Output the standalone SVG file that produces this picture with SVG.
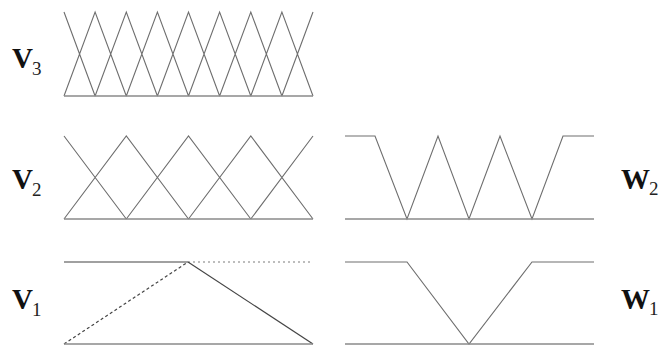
<svg xmlns="http://www.w3.org/2000/svg" width="665" height="345" viewBox="0 0 665 345">
<style>
.ln{fill:none;stroke:#6e6e6e;stroke-width:1.1}
.base{fill:none;stroke:#8a8a8a;stroke-width:1.3}
.lbl{font-family:"Liberation Serif",serif;font-weight:bold;font-size:29px;fill:#111}
.sub{font-family:"Liberation Serif",serif;font-weight:normal;font-size:19px;fill:#222}
</style>
<rect width="665" height="345" fill="#fff"/>
<g id="V3">
<path class="ln" d="M64,12 L95.1,96 M64,96 L95.1,12 L126.3,96 M95.1,96 L126.3,12 L157.4,96 M126.3,96 L157.4,12 L188.5,96 M157.4,96 L188.5,12 L219.6,96 M188.5,96 L219.6,12 L250.8,96 M219.6,96 L250.8,12 L281.9,96 M250.8,96 L281.9,12 L313,96 M281.9,96 L313,12"/>
<line class="base" x1="64" y1="96" x2="313" y2="96"/>
<text class="lbl" x="12" y="68">V<tspan class="sub" dx="-1" dy="7">3</tspan></text>
</g>
<g id="V2">
<path class="ln" d="M64,136 L126.3,219 M64,219 L126.3,136 L188.5,219 M126.3,219 L188.5,136 L250.8,219 M188.5,219 L250.8,136 L313,219 M250.8,219 L313,136"/>
<line class="base" x1="64" y1="219" x2="313" y2="219"/>
<text class="lbl" x="12" y="189">V<tspan class="sub" dx="-1" dy="7">2</tspan></text>
</g>
<g id="V1">
<line x1="64" y1="262" x2="188" y2="262" stroke="#a0a0a0" stroke-width="2.2"/>
<line x1="188" y1="262" x2="313" y2="262" stroke="#a8a8a8" stroke-width="1.6" stroke-dasharray="2,3"/>
<line x1="64" y1="344" x2="188" y2="262" stroke="#444" stroke-width="1.2" stroke-dasharray="3,2.5"/>
<line x1="188" y1="262" x2="313" y2="344" stroke="#444" stroke-width="1.2"/>
<line class="base" x1="64" y1="344" x2="313" y2="344"/>
<text class="lbl" x="12" y="309">V<tspan class="sub" dx="-1" dy="7">1</tspan></text>
</g>
<g id="W2">
<path class="ln" d="M345,136 L375,136 L407,219 L438,136 L469,219 L500,136 L532,219 L563,136 L594,136"/>
<line class="base" x1="345" y1="219" x2="594" y2="219"/>
<text class="lbl" x="621" y="189">W<tspan class="sub" dx="-1" dy="6">2</tspan></text>
</g>
<g id="W1">
<path class="ln" d="M345,262 L407,262 L469,344 L532,262 L594,262"/>
<line class="base" x1="345" y1="344" x2="594" y2="344"/>
<text class="lbl" x="621" y="309">W<tspan class="sub" dx="-1" dy="6">1</tspan></text>
</g>
</svg>
